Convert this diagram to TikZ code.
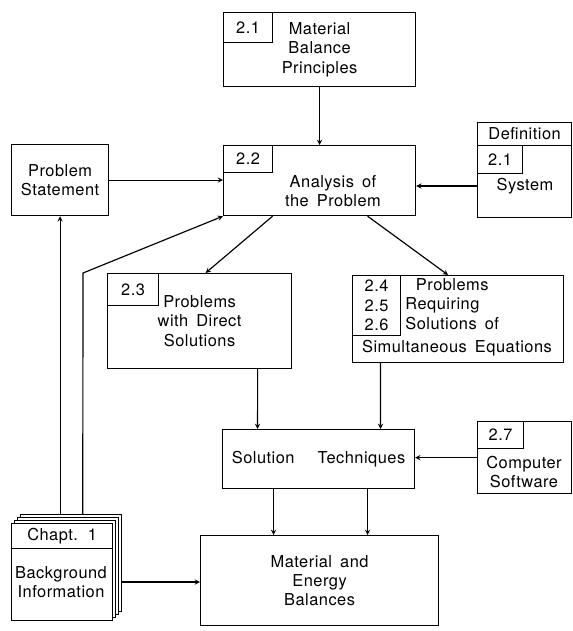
\documentclass[tikz,border=0pt]{standalone}
\usepackage{fontspec}
\setmainfont{TeX Gyre Heros}[LetterSpace=3,WordSpace=1.6]
\usetikzlibrary{arrows,positioning}
\newcommand{\lettering}{\fontsize{14}{16.5}\selectfont}

\begin{document}
\begin{tikzpicture}[x=0.03cm, y=-0.03cm,
    box/.style={rectangle, draw, line width=1pt, anchor=north west, inner sep=1pt, align=center, font=\lettering},
    tag/.style={box},
    words/.style={align=center, inner sep=1pt, font=\lettering},
    sz/.style 2 args={minimum width=#1*0.03cm, minimum height=#2*0.03cm},
    flow/.style={->, >=stealth, line width=1pt}
]
\useasboundingbox (0,0) rectangle (573,631);

% Top row
\node[box, sz={192}{74}] (principles) at (223,12) {Material\\Balance\\Principles};
\node[tag, sz={49}{30}] (tagA) at (223,12) {2.1};

\node[box, sz={97}{71}] (statement) at (11,144) {Problem\\Statement};

\node[box, sz={192}{70}] (analysis) at (223,145) {};
\node[tag, sz={49}{27}] (tagB) at (223,145) {2.2};
\node[words] (analysistext) at (333,191) {Analysis of\\the Problem};

\node[box, sz={94}{95}] (system) at (477,122) {};
\node[tag, sz={94}{23}] (definition) at (477,122) {Definition};
\node[tag, sz={45}{28}] (tagC) at (477,145) {2.1};
\node[words] (systemtext) at (525,186) {System};

% Middle row
\node[box, sz={184}{95}] (direct) at (107,273) {Problems\\with Direct\\Solutions};
\node[tag, sz={51}{32}] (tagD) at (107,273) {2.3};

\node[box, sz={211}{87}] (requiring) at (352,275) {};
\node[tag, sz={48}{60}] (tagE) at (352,275) {2.4\\2.5\\2.6};
\node[words, anchor=north west, align=left] (requiringtext) at (404,277) {\hspace*{9pt}Problems\\Requiring\\Solutions of};
\node[words] (simultaneous) at (457,348) {Simultaneous Equations};

\node[box, sz={192}{59}] (solution) at (222,429) {Solution\hspace{1.4em}Techniques};

\node[box, sz={94}{72}] (software) at (477,421) {};
\node[tag, sz={46}{27}] (tagF) at (477,421) {2.7};
\node[words] (softwaretext) at (524,472) {Computer\\Software};

% Bottom row
\node[box, sz={238}{90}] (balances) at (200,535) {Material and\\Energy\\Balances};

% Chapter stack
\foreach \d in {9,6,3}
    \node[box, fill=white, sz={101}{97}] (page\d) at (11+\d,523-\d) {};
\node[box, fill=white, sz={101}{97}] (chapter) at (11,523) {};
\node[tag, sz={101}{25}] (chapthead) at (11,523) {Chapt. 1};
\node[words] (chaptext) at (61,582) {Background\\Information};

\coordinate (chapbend) at (83,273);

% Arrows
\draw[flow] (principles) -- (analysis);
\draw[flow] (statement.east) -- (statement.east -| analysis.west);
\draw[flow] (systemtext -| system.west) -- (systemtext -| analysis.east);
\draw[flow] ([xshift=-1.41cm]analysis.south) -- ([xshift=0.18cm]direct.north);
\draw[flow] ([xshift=1.44cm]analysis.south) -- ([xshift=-0.3cm]requiring.north);
\draw[flow] ([xshift=1.74cm]direct.south) -- ([xshift=-1.83cm]solution.north);
\draw[flow] ([xshift=-2.33cm]requiring.south) -- ([xshift=1.86cm]solution.north);
\draw[flow] (software.west) -- (software.west -| solution.east);
\draw[flow] ([xshift=-1.35cm]solution.south) -- ([xshift=-1.38cm]balances.north);
\draw[flow] ([xshift=1.47cm]solution.south) -- ([xshift=1.44cm]balances.north);
\draw[flow] (chaptext -| page9.east) -- (chaptext -| balances.west);
\draw[flow] (statement.south |- page9.north) -- (statement.south);
\draw[flow] ([xshift=0.35cm]page9.north) -- (chapbend) -- (analysis.south west);

\end{tikzpicture}
\end{document}
